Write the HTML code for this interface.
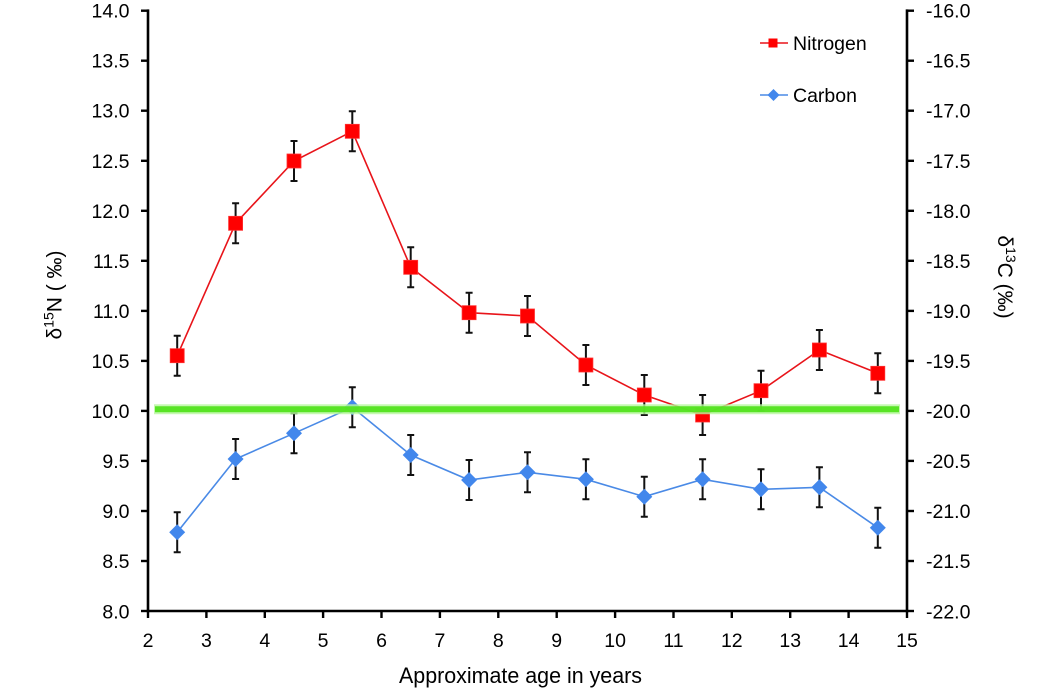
<!DOCTYPE html>
<html>
<head>
<meta charset="utf-8">
<style>
html,body{margin:0;padding:0;background:#fff;}
svg{display:block;}
text{font-family:"Liberation Sans", Arial, sans-serif;fill:#000;}
</style>
</head>
<body>
<svg width="1063" height="691" viewBox="0 0 1063 691" xmlns="http://www.w3.org/2000/svg">
<rect width="1063" height="691" fill="#fff"/>

<!-- Axes -->
<g stroke="#000" stroke-width="2.6" fill="none" stroke-linecap="square">
  <line x1="148" y1="10.7" x2="148" y2="611"/>
  <line x1="907" y1="10.7" x2="907" y2="611"/>
  <line x1="148" y1="611" x2="907" y2="611"/>
</g>
<!-- Left ticks -->
<g stroke="#000" stroke-width="2.4">
  <line x1="141" y1="10.7" x2="148" y2="10.7"/>
  <line x1="141" y1="60.7" x2="148" y2="60.7"/>
  <line x1="141" y1="110.7" x2="148" y2="110.7"/>
  <line x1="141" y1="160.8" x2="148" y2="160.8"/>
  <line x1="141" y1="210.8" x2="148" y2="210.8"/>
  <line x1="141" y1="260.8" x2="148" y2="260.8"/>
  <line x1="141" y1="310.9" x2="148" y2="310.9"/>
  <line x1="141" y1="360.9" x2="148" y2="360.9"/>
  <line x1="141" y1="410.9" x2="148" y2="410.9"/>
  <line x1="141" y1="460.9" x2="148" y2="460.9"/>
  <line x1="141" y1="511" x2="148" y2="511"/>
  <line x1="141" y1="561" x2="148" y2="561"/>
  <line x1="141" y1="611" x2="148" y2="611"/>
</g>
<!-- Right ticks -->
<g stroke="#000" stroke-width="2.4">
  <line x1="907" y1="10.7" x2="914" y2="10.7"/>
  <line x1="907" y1="60.7" x2="914" y2="60.7"/>
  <line x1="907" y1="110.7" x2="914" y2="110.7"/>
  <line x1="907" y1="160.8" x2="914" y2="160.8"/>
  <line x1="907" y1="210.8" x2="914" y2="210.8"/>
  <line x1="907" y1="260.8" x2="914" y2="260.8"/>
  <line x1="907" y1="310.9" x2="914" y2="310.9"/>
  <line x1="907" y1="360.9" x2="914" y2="360.9"/>
  <line x1="907" y1="410.9" x2="914" y2="410.9"/>
  <line x1="907" y1="460.9" x2="914" y2="460.9"/>
  <line x1="907" y1="511" x2="914" y2="511"/>
  <line x1="907" y1="561" x2="914" y2="561"/>
  <line x1="907" y1="611" x2="914" y2="611"/>
</g>
<!-- Bottom ticks -->
<g stroke="#000" stroke-width="2.4">
  <line x1="148" y1="611" x2="148" y2="618"/>
  <line x1="206.4" y1="611" x2="206.4" y2="618"/>
  <line x1="264.8" y1="611" x2="264.8" y2="618"/>
  <line x1="323.1" y1="611" x2="323.1" y2="618"/>
  <line x1="381.5" y1="611" x2="381.5" y2="618"/>
  <line x1="439.9" y1="611" x2="439.9" y2="618"/>
  <line x1="498.3" y1="611" x2="498.3" y2="618"/>
  <line x1="556.7" y1="611" x2="556.7" y2="618"/>
  <line x1="615.1" y1="611" x2="615.1" y2="618"/>
  <line x1="673.5" y1="611" x2="673.5" y2="618"/>
  <line x1="731.8" y1="611" x2="731.8" y2="618"/>
  <line x1="790.2" y1="611" x2="790.2" y2="618"/>
  <line x1="848.6" y1="611" x2="848.6" y2="618"/>
  <line x1="907" y1="611" x2="907" y2="618"/>
</g>

<!-- Left tick labels -->
<g font-size="19.5" text-anchor="end">
  <text x="129.5" y="17.7">14.0</text>
  <text x="129.5" y="67.7">13.5</text>
  <text x="129.5" y="117.7">13.0</text>
  <text x="129.5" y="167.8">12.5</text>
  <text x="129.5" y="217.8">12.0</text>
  <text x="129.5" y="267.8">11.5</text>
  <text x="129.5" y="317.9">11.0</text>
  <text x="129.5" y="367.9">10.5</text>
  <text x="129.5" y="417.9">10.0</text>
  <text x="129.5" y="468">9.5</text>
  <text x="129.5" y="518">9.0</text>
  <text x="129.5" y="568">8.5</text>
  <text x="129.5" y="618.5">8.0</text>
</g>
<!-- Right tick labels -->
<g font-size="19.5" text-anchor="start">
  <text x="926" y="17.7">-16.0</text>
  <text x="926" y="67.7">-16.5</text>
  <text x="926" y="117.7">-17.0</text>
  <text x="926" y="167.8">-17.5</text>
  <text x="926" y="217.8">-18.0</text>
  <text x="926" y="267.8">-18.5</text>
  <text x="926" y="317.9">-19.0</text>
  <text x="926" y="367.9">-19.5</text>
  <text x="926" y="417.9">-20.0</text>
  <text x="926" y="468">-20.5</text>
  <text x="926" y="518">-21.0</text>
  <text x="926" y="568">-21.5</text>
  <text x="926" y="618.5">-22.0</text>
</g>
<!-- Bottom tick labels -->
<g font-size="19.5" text-anchor="middle">
  <text x="148" y="647">2</text>
  <text x="206.4" y="647">3</text>
  <text x="264.8" y="647">4</text>
  <text x="323.1" y="647">5</text>
  <text x="381.5" y="647">6</text>
  <text x="439.9" y="647">7</text>
  <text x="498.3" y="647">8</text>
  <text x="556.7" y="647">9</text>
  <text x="615.1" y="647">10</text>
  <text x="673.5" y="647">11</text>
  <text x="731.8" y="647">12</text>
  <text x="790.2" y="647">13</text>
  <text x="848.6" y="647">14</text>
  <text x="907" y="647">15</text>
</g>

<!-- Axis titles -->
<text x="399" y="683" font-size="22" textLength="243" lengthAdjust="spacingAndGlyphs">Approximate age in years</text>
<text transform="translate(61.5,295) rotate(-90)" font-size="21" text-anchor="middle">δ<tspan font-size="14" dy="-8">15</tspan><tspan dy="8">N ( ‰)</tspan></text>
<text transform="translate(998,277) rotate(90)" font-size="21" text-anchor="middle">δ<tspan font-size="14" dy="-8">13</tspan><tspan dy="8">C  (‰)</tspan></text>

<!-- Nitrogen series -->
<polyline fill="none" stroke="#e8141a" stroke-width="1.6"
 points="177.2,355.7 235.6,223.3 294,161 352.3,131.3 410.7,267.3 469.1,312.7 527.5,316 585.9,365 644.3,395 702.6,415 761,390.7 819.4,350 877.8,373.3"/>
<!-- Carbon series -->
<polyline fill="none" stroke="#4a8ae6" stroke-width="1.6"
 points="177.2,532.3 235.6,459 294,433.3 352.3,407.3 410.7,455 469.1,480 527.5,472.3 585.9,479.3 644.3,496.7 702.6,479.3 761,489.3 819.4,487.3 877.8,527.7"/>

<!-- Error bars -->
<g stroke="#111" stroke-width="2" fill="none">
  <path d="M177.2,335.7V375.7M173.7,335.7h7M173.7,375.7h7"/>
  <path d="M235.6,203.3V243.3M232.1,203.3h7M232.1,243.3h7"/>
  <path d="M294,141V181M290.5,141h7M290.5,181h7"/>
  <path d="M352.3,111.3V151.3M348.8,111.3h7M348.8,151.3h7"/>
  <path d="M410.7,247.3V287.3M407.2,247.3h7M407.2,287.3h7"/>
  <path d="M469.1,292.7V332.7M465.6,292.7h7M465.6,332.7h7"/>
  <path d="M527.5,296V336M524,296h7M524,336h7"/>
  <path d="M585.9,345V385M582.4,345h7M582.4,385h7"/>
  <path d="M644.3,375V415M640.8,375h7M640.8,415h7"/>
  <path d="M702.6,395V435M699.1,395h7M699.1,435h7"/>
  <path d="M761,370.7V410.7M757.5,370.7h7M757.5,410.7h7"/>
  <path d="M819.4,330V370M815.9,330h7M815.9,370h7"/>
  <path d="M877.8,353.3V393.3M874.3,353.3h7M874.3,393.3h7"/>

  <path d="M177.2,512.3V552.3M173.7,512.3h7M173.7,552.3h7"/>
  <path d="M235.6,439V479M232.1,439h7M232.1,479h7"/>
  <path d="M294,413.3V453.3M290.5,413.3h7M290.5,453.3h7"/>
  <path d="M352.3,387.3V427.3M348.8,387.3h7M348.8,427.3h7"/>
  <path d="M410.7,435V475M407.2,435h7M407.2,475h7"/>
  <path d="M469.1,460V500M465.6,460h7M465.6,500h7"/>
  <path d="M527.5,452.3V492.3M524,452.3h7M524,492.3h7"/>
  <path d="M585.9,459.3V499.3M582.4,459.3h7M582.4,499.3h7"/>
  <path d="M644.3,476.7V516.7M640.8,476.7h7M640.8,516.7h7"/>
  <path d="M702.6,459.3V499.3M699.1,459.3h7M699.1,499.3h7"/>
  <path d="M761,469.3V509.3M757.5,469.3h7M757.5,509.3h7"/>
  <path d="M819.4,467.3V507.3M815.9,467.3h7M815.9,507.3h7"/>
  <path d="M877.8,507.7V547.7M874.3,507.7h7M874.3,547.7h7"/>
</g>

<!-- Nitrogen markers (squares) -->
<g fill="#ff0000" stroke="#ff3030" stroke-width="0.8">
  <rect x="170.2" y="348.7" width="14" height="14"/>
  <rect x="228.6" y="216.3" width="14" height="14"/>
  <rect x="287" y="154" width="14" height="14"/>
  <rect x="345.3" y="124.3" width="14" height="14"/>
  <rect x="403.7" y="260.3" width="14" height="14"/>
  <rect x="462.1" y="305.7" width="14" height="14"/>
  <rect x="520.5" y="309" width="14" height="14"/>
  <rect x="578.9" y="358" width="14" height="14"/>
  <rect x="637.3" y="388" width="14" height="14"/>
  <rect x="695.6" y="408" width="14" height="14"/>
  <rect x="754" y="383.7" width="14" height="14"/>
  <rect x="812.4" y="343" width="14" height="14"/>
  <rect x="870.8" y="366.3" width="14" height="14"/>
</g>
<!-- Carbon markers (diamonds) -->
<g fill="#4287ec">
  <path d="M177.2,524.3l8,8l-8,8l-8,-8z"/>
  <path d="M235.6,451l8,8l-8,8l-8,-8z"/>
  <path d="M294,425.3l8,8l-8,8l-8,-8z"/>
  <path d="M352.3,399.3l8,8l-8,8l-8,-8z"/>
  <path d="M410.7,447l8,8l-8,8l-8,-8z"/>
  <path d="M469.1,472l8,8l-8,8l-8,-8z"/>
  <path d="M527.5,464.3l8,8l-8,8l-8,-8z"/>
  <path d="M585.9,471.3l8,8l-8,8l-8,-8z"/>
  <path d="M644.3,488.7l8,8l-8,8l-8,-8z"/>
  <path d="M702.6,471.3l8,8l-8,8l-8,-8z"/>
  <path d="M761,481.3l8,8l-8,8l-8,-8z"/>
  <path d="M819.4,479.3l8,8l-8,8l-8,-8z"/>
  <path d="M877.8,519.7l8,8l-8,8l-8,-8z"/>
</g>

<!-- Green reference line -->
<line x1="154" y1="409.3" x2="900" y2="409.3" stroke="#b8f7a0" stroke-width="10" opacity="0.8"/>
<line x1="155" y1="409.3" x2="899" y2="409.3" stroke="#4fe31a" stroke-width="6" opacity="0.92"/>

<!-- Legend -->
<line x1="760" y1="43" x2="788" y2="43" stroke="#e8141a" stroke-width="1.6"/>
<rect x="768.5" y="38.5" width="9" height="9" fill="#ff0000"/>
<text x="793" y="50" font-size="19.5">Nitrogen</text>
<line x1="760" y1="95" x2="788" y2="95" stroke="#4a8ae6" stroke-width="1.6"/>
<path d="M773.5,89l6,6l-6,6l-6,-6z" fill="#4287ec"/>
<text x="793" y="102" font-size="19.5">Carbon</text>
</svg>
</body>
</html>
